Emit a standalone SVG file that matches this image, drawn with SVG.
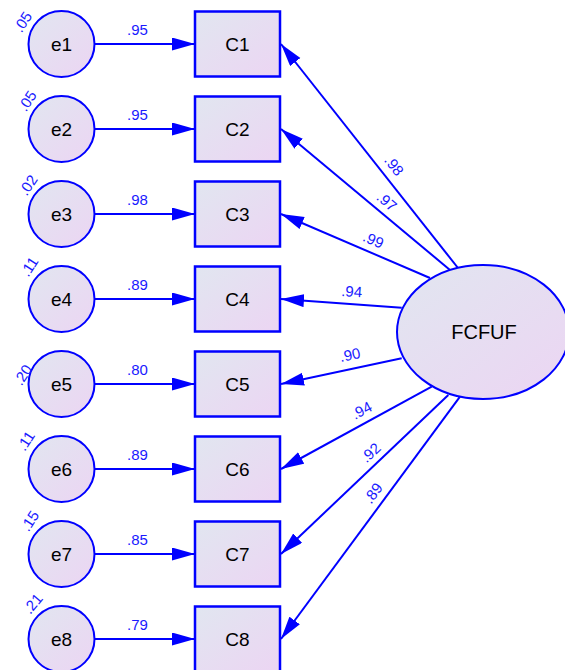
<svg xmlns="http://www.w3.org/2000/svg" width="565" height="670" viewBox="0 0 565 670">
<defs>
  <linearGradient id="g" x1="0" y1="0" x2="1" y2="1">
    <stop offset="0" stop-color="#E1E6F0"/>
    <stop offset="1" stop-color="#ECD5F3"/>
  </linearGradient>
  <marker id="ah" markerUnits="userSpaceOnUse" markerWidth="24" markerHeight="14" refX="23" refY="6.5" orient="auto" viewBox="0 0 24 14">
    <path d="M0,0 L23,6.5 L0,13 z" fill="#0000FF"/>
  </marker>
  <style>
    .node { fill: url(#g); stroke: #0000FF; stroke-width: 2; }
    .rect { fill: url(#g); stroke: #0000FF; stroke-width: 2.5; }
    .lbl { font-family: "Liberation Sans", Arial, sans-serif; font-size: 19px; fill: #000; text-anchor: middle; }
    .num { font-family: "Liberation Sans", Arial, sans-serif; font-size: 15px; fill: #1A1AFF; text-anchor: middle; }
    .edge { stroke: #0000FF; stroke-width: 2; fill: none; marker-end: url(#ah); }
  </style>
</defs>
<rect width="565" height="670" fill="#FFFFFF"/>

<g id="connectors">
  <line class="edge" x1="94.5" y1="44" x2="195" y2="44"/>
  <line class="edge" x1="94.5" y1="129" x2="195" y2="129"/>
  <line class="edge" x1="94.5" y1="214" x2="195" y2="214"/>
  <line class="edge" x1="94.5" y1="299" x2="195" y2="299"/>
  <line class="edge" x1="94.5" y1="384" x2="195" y2="384"/>
  <line class="edge" x1="94.5" y1="469" x2="195" y2="469"/>
  <line class="edge" x1="94.5" y1="554" x2="195" y2="554"/>
  <line class="edge" x1="94.5" y1="639" x2="195" y2="639"/>

  <line class="edge" x1="458" y1="268" x2="281" y2="44"/>
  <line class="edge" x1="450" y1="270" x2="281" y2="129"/>
  <line class="edge" x1="430" y1="278" x2="281" y2="214"/>
  <line class="edge" x1="401.7" y1="307.7" x2="281" y2="299"/>
  <line class="edge" x1="401.7" y1="358.3" x2="281" y2="384"/>
  <line class="edge" x1="431.7" y1="386.7" x2="281" y2="469"/>
  <line class="edge" x1="448.3" y1="395" x2="281" y2="554"/>
  <line class="edge" x1="460" y1="396.7" x2="281" y2="639"/>

  <text class="num" x="137.5" y="35">.95</text>
  <text class="num" x="137.5" y="120">.95</text>
  <text class="num" x="137.5" y="205">.98</text>
  <text class="num" x="137.5" y="290">.89</text>
  <text class="num" x="137.5" y="375">.80</text>
  <text class="num" x="137.5" y="460">.89</text>
  <text class="num" x="137.5" y="545">.85</text>
  <text class="num" x="137.5" y="630">.79</text>

  <text class="num" transform="translate(394,165.7) rotate(51.7)" x="0" y="5">.98</text>
  <text class="num" transform="translate(386.7,201.7) rotate(39.8)" x="0" y="5">.97</text>
  <text class="num" transform="translate(373.3,240) rotate(23.2)" x="0" y="5">.99</text>
  <text class="num" transform="translate(351.7,291.7) rotate(4.1)" x="0" y="5">.94</text>
  <text class="num" transform="translate(350,355) rotate(-12)" x="0" y="5">.90</text>
  <text class="num" transform="translate(361.7,410.7) rotate(-28.6)" x="0" y="5">.94</text>
  <text class="num" transform="translate(370.7,452.7) rotate(-43.5)" x="0" y="5">.92</text>
  <text class="num" transform="translate(373.3,493.3) rotate(-53.5)" x="0" y="5">.89</text>
</g>

<g id="e1"><circle class="node" cx="61.5" cy="44" r="33"/><text class="lbl" x="61.5" y="51">e1</text><text class="num" transform="translate(23,22) rotate(-57)" x="0" y="5">.05</text></g>
<g id="e2"><circle class="node" cx="61.5" cy="129" r="33"/><text class="lbl" x="61.5" y="136">e2</text><text class="num" transform="translate(27.5,101) rotate(-57)" x="0" y="5">.05</text></g>
<g id="e3"><circle class="node" cx="61.5" cy="214" r="33"/><text class="lbl" x="61.5" y="221">e3</text><text class="num" transform="translate(28.3,185.3) rotate(-57)" x="0" y="5">.02</text></g>
<g id="e4"><circle class="node" cx="61.5" cy="299" r="33"/><text class="lbl" x="61.5" y="306">e4</text><text class="num" transform="translate(29.5,266.7) rotate(-57)" x="0" y="5">.11</text></g>
<g id="e5"><circle class="node" cx="61.5" cy="384" r="33"/><text class="lbl" x="61.5" y="391">e5</text><text class="num" transform="translate(23,375) rotate(-57)" x="0" y="5">.20</text></g>
<g id="e6"><circle class="node" cx="61.5" cy="469" r="33"/><text class="lbl" x="61.5" y="476">e6</text><text class="num" transform="translate(26,441) rotate(-57)" x="0" y="5">.11</text></g>
<g id="e7"><circle class="node" cx="61.5" cy="554" r="33"/><text class="lbl" x="61.5" y="561">e7</text><text class="num" transform="translate(30,521) rotate(-57)" x="0" y="5">.15</text></g>
<g id="e8"><circle class="node" cx="61.5" cy="639" r="33"/><text class="lbl" x="61.5" y="646">e8</text><text class="num" transform="translate(33,603.7) rotate(-50)" x="0" y="5">.21</text></g>

<g id="C1"><rect class="rect" x="195" y="11.5" width="85" height="65"/><text class="lbl" x="237.5" y="51">C1</text></g>
<g id="C2"><rect class="rect" x="195" y="96.5" width="85" height="65"/><text class="lbl" x="237.5" y="136">C2</text></g>
<g id="C3"><rect class="rect" x="195" y="181.5" width="85" height="65"/><text class="lbl" x="237.5" y="221">C3</text></g>
<g id="C4"><rect class="rect" x="195" y="266.5" width="85" height="65"/><text class="lbl" x="237.5" y="306">C4</text></g>
<g id="C5"><rect class="rect" x="195" y="351.5" width="85" height="65"/><text class="lbl" x="237.5" y="391">C5</text></g>
<g id="C6"><rect class="rect" x="195" y="436.5" width="85" height="65"/><text class="lbl" x="237.5" y="476">C6</text></g>
<g id="C7"><rect class="rect" x="195" y="521.5" width="85" height="65"/><text class="lbl" x="237.5" y="561">C7</text></g>
<g id="C8"><rect class="rect" x="195" y="606.5" width="85" height="65"/><text class="lbl" x="237.5" y="646">C8</text></g>

<g id="FCFUF"><ellipse class="node" cx="483" cy="332" rx="86" ry="67"/><text class="lbl" x="484" y="339" style="font-size:20px">FCFUF</text></g>
</svg>
